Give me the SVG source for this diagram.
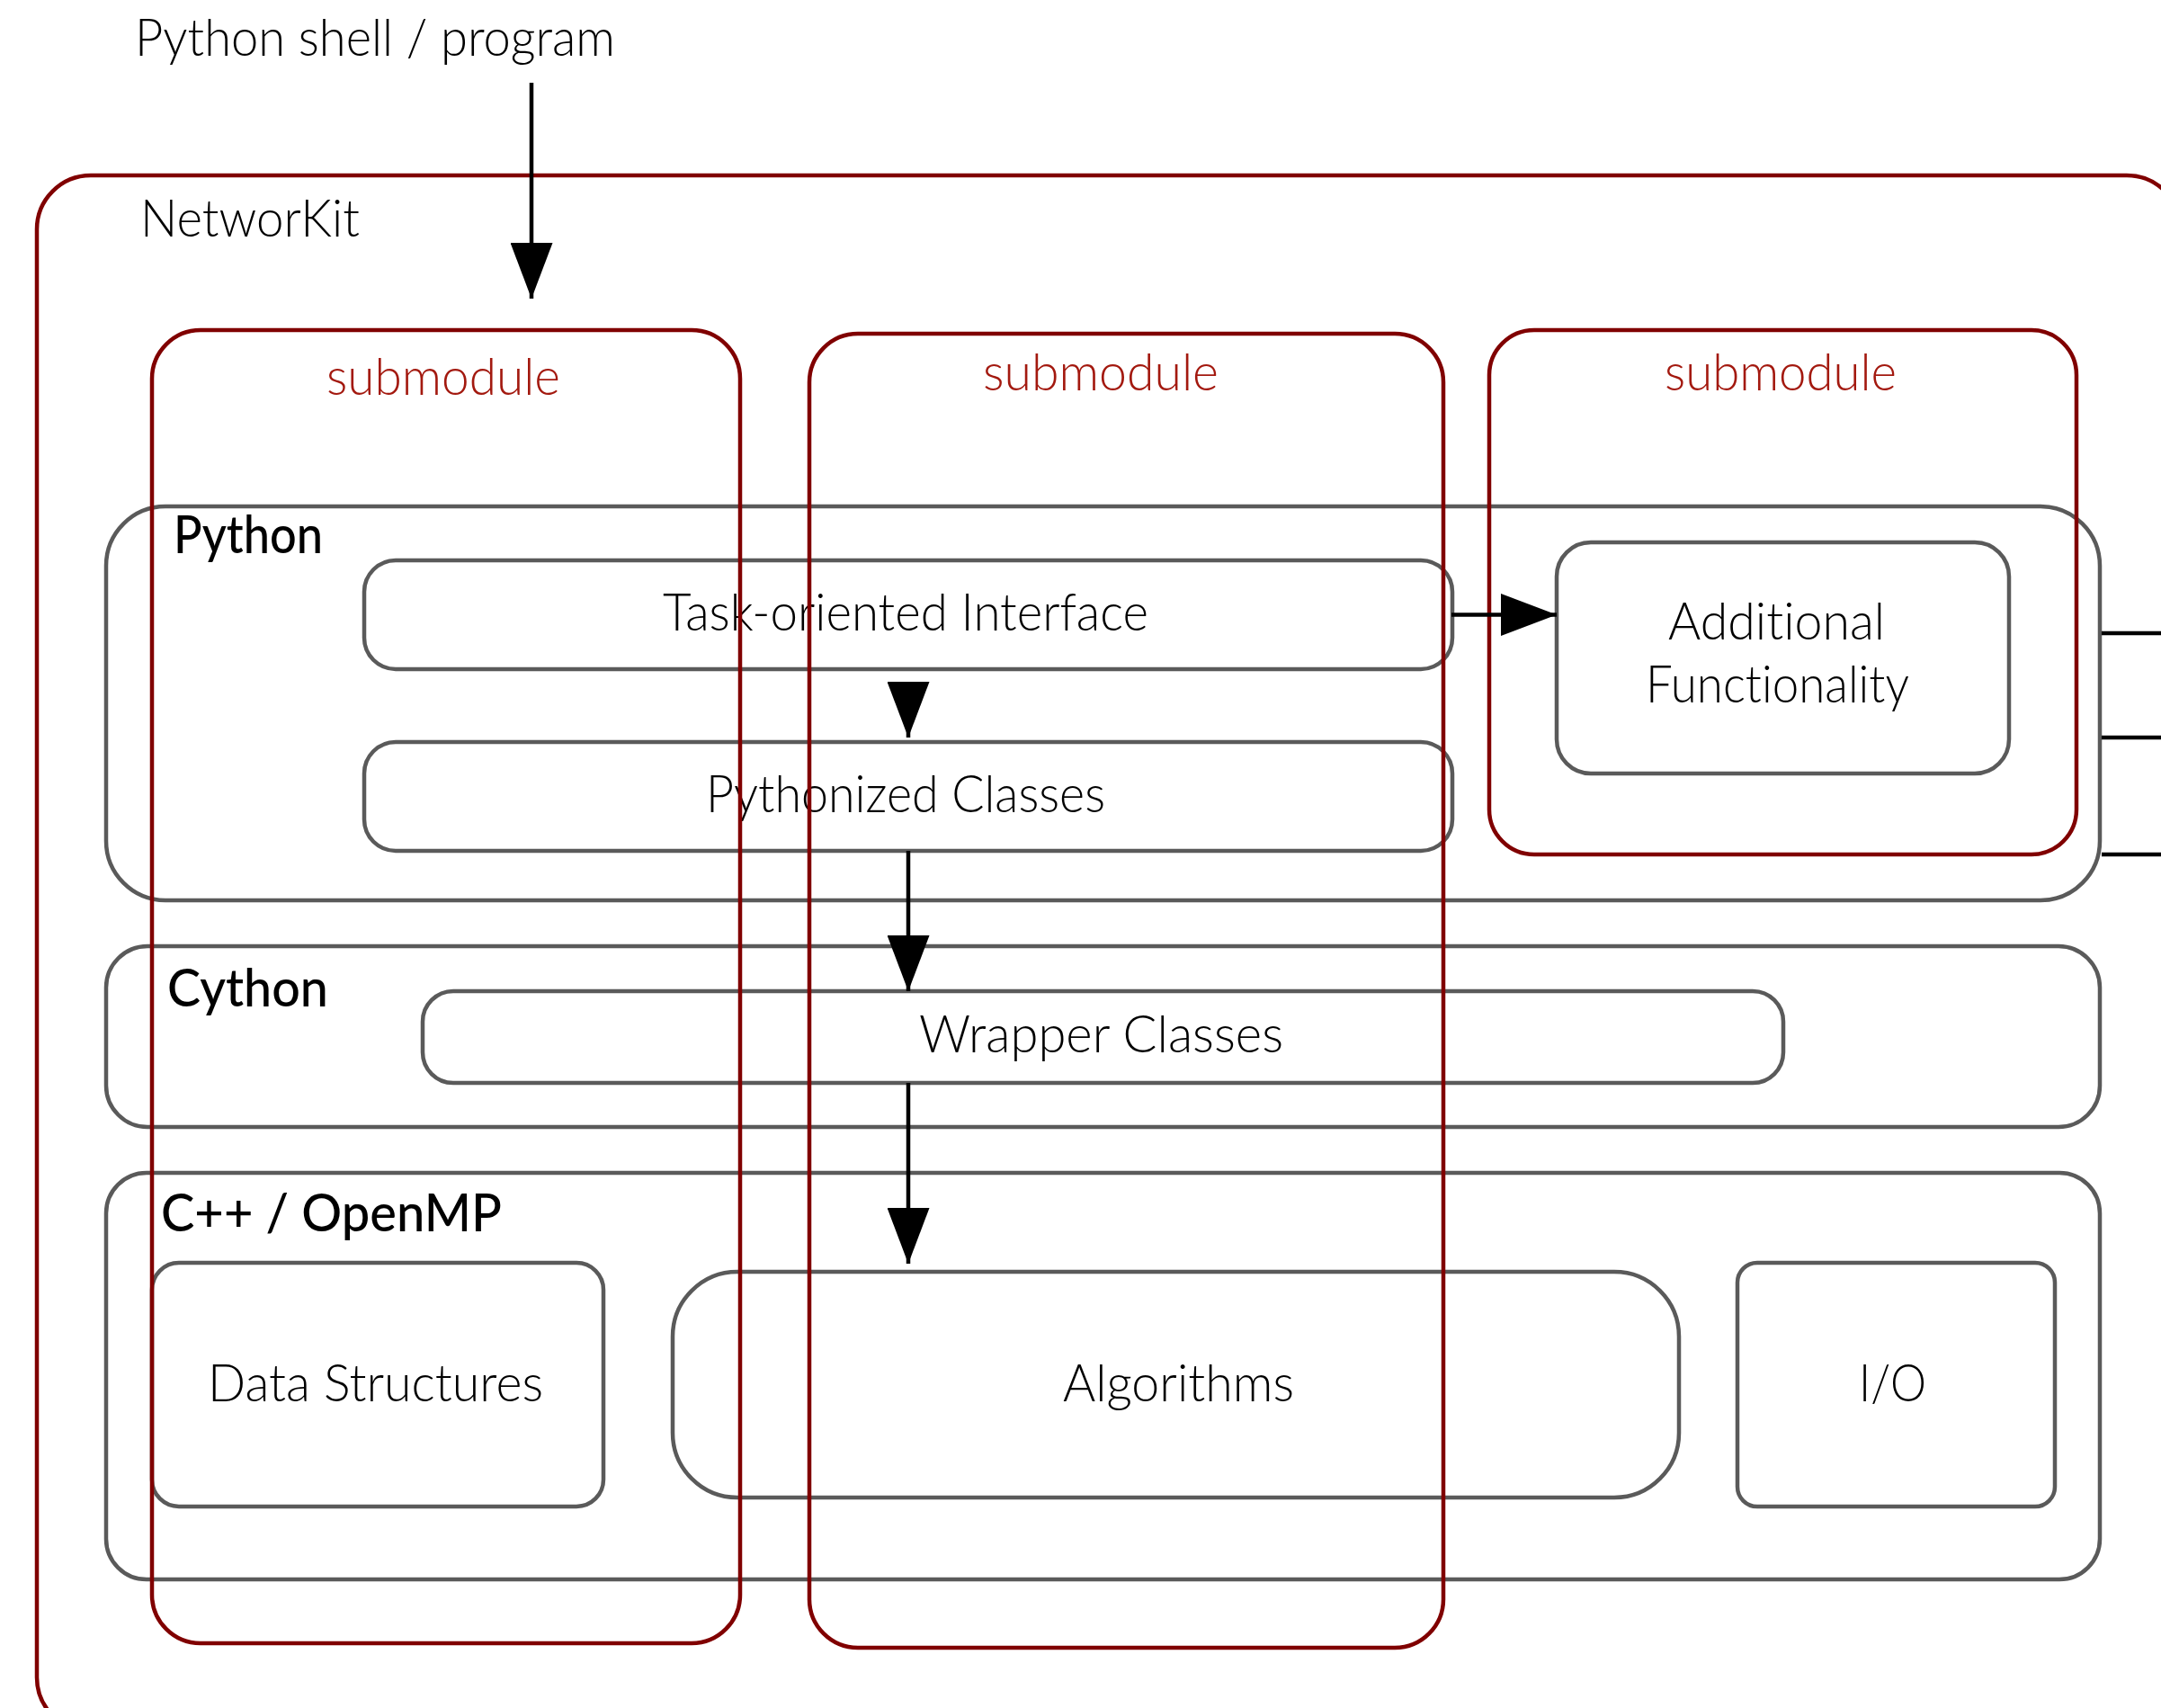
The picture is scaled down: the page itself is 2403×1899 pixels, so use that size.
<svg xmlns="http://www.w3.org/2000/svg" width="2403" height="1899" viewBox="0 0 2403 1899">
<style>
.red{fill:none;stroke:#800000;stroke-width:4.5}
.gray{fill:none;stroke:#5a5a5a;stroke-width:4.5}
.conn{fill:none;stroke:#000;stroke-width:4.5}
.t{font-family:Lato,"Liberation Sans",sans-serif;font-weight:300;font-size:57px;fill:#000;font-variant-ligatures:none;font-feature-settings:"liga" 0,"clig" 0}
.b{font-weight:500}
.sub{fill:#a3190f}
</style>
<defs>
<marker id="ah" markerUnits="userSpaceOnUse" markerWidth="62" markerHeight="47" refX="62" refY="23.5" orient="auto">
<path d="M0,0 L62,23.5 L0,47 Z" fill="#000"/>
</marker>
</defs>
<rect x="0" y="0" width="2403" height="1899" fill="#fff"/>
<text class="t" x="150" y="62" textLength="534" lengthAdjust="spacingAndGlyphs">Python shell / program</text>
<g id="networkit">
<rect class="red" x="41" y="195" width="2384" height="1730" rx="60"/>
<text class="t" x="156" y="263" textLength="244" lengthAdjust="spacingAndGlyphs">NetworKit</text>
</g>
<g id="layer-python">
<rect class="gray" x="118" y="563" width="2217" height="438" rx="66"/>
<text class="t b" x="193" y="615" textLength="166" lengthAdjust="spacingAndGlyphs">Python</text>
</g>
<g id="layer-cython">
<rect class="gray" x="118" y="1052" width="2217" height="201" rx="46"/>
<text class="t b" x="186" y="1119" textLength="179" lengthAdjust="spacingAndGlyphs">Cython</text>
</g>
<g id="layer-cpp">
<rect class="gray" x="118" y="1304" width="2217" height="452" rx="45"/>
<text class="t b" x="179" y="1369" textLength="379" lengthAdjust="spacingAndGlyphs">C++ / OpenMP</text>
</g>
<g id="task-interface">
<rect class="gray" x="405" y="623" width="1210" height="121" rx="35"/>
<text class="t" x="737" y="701" textLength="540" lengthAdjust="spacingAndGlyphs">Task-oriented Interface</text>
</g>
<g id="pythonized-classes">
<rect class="gray" x="405" y="825" width="1210" height="121" rx="35"/>
<text class="t" x="785" y="903" textLength="444" lengthAdjust="spacingAndGlyphs">Pythonized Classes</text>
</g>
<g id="additional-functionality">
<rect class="gray" x="1731" y="603" width="503" height="257" rx="38"/>
<text class="t" x="1855" y="711" textLength="241" lengthAdjust="spacingAndGlyphs">Additional</text>
<text class="t" x="1830" y="781" textLength="293" lengthAdjust="spacingAndGlyphs">Functionality</text>
</g>
<g id="wrapper-classes">
<rect class="gray" x="470" y="1102" width="1513" height="102" rx="34"/>
<text class="t" x="1022" y="1170" textLength="405" lengthAdjust="spacingAndGlyphs">Wrapper Classes</text>
</g>
<g id="data-structures">
<rect class="gray" x="169" y="1404" width="502" height="271" rx="30"/>
<text class="t" x="231" y="1558" textLength="373" lengthAdjust="spacingAndGlyphs">Data Structures</text>
</g>
<g id="algorithms">
<rect class="gray" x="748" y="1414" width="1119" height="251" rx="72"/>
<text class="t" x="1182" y="1558" textLength="257" lengthAdjust="spacingAndGlyphs">Algorithms</text>
</g>
<g id="io">
<rect class="gray" x="1932" y="1404" width="353" height="271" rx="22"/>
<text class="t" x="2067" y="1558" textLength="75" lengthAdjust="spacingAndGlyphs">I/O</text>
</g>
<g id="submodule-1">
<rect class="red" x="169" y="367" width="654" height="1460" rx="54"/>
<text class="t sub" x="363" y="439" textLength="260" lengthAdjust="spacingAndGlyphs">submodule</text>
</g>
<g id="submodule-2">
<rect class="red" x="900" y="371" width="705" height="1461" rx="54"/>
<text class="t sub" x="1093" y="434" textLength="262" lengthAdjust="spacingAndGlyphs">submodule</text>
</g>
<g id="submodule-3">
<rect class="red" x="1656" y="367" width="653" height="583" rx="50"/>
<text class="t sub" x="1851" y="434" textLength="258" lengthAdjust="spacingAndGlyphs">submodule</text>
</g>
<g id="connectors">
<path class="conn" d="M591,92 L591,332" marker-end="url(#ah)"/>
<path class="conn" d="M1614,683.5 L1731,683.5" marker-end="url(#ah)"/>
<path class="conn" d="M1010,760 L1010,820" marker-end="url(#ah)"/>
<path class="conn" d="M1010,946 L1010,1102" marker-end="url(#ah)"/>
<path class="conn" d="M1010,1204 L1010,1405" marker-end="url(#ah)"/>
<path class="conn" d="M2337,704 L2410,704"/>
<path class="conn" d="M2337,820 L2410,820"/>
<path class="conn" d="M2337,950 L2410,950"/>
</g>
</svg>
